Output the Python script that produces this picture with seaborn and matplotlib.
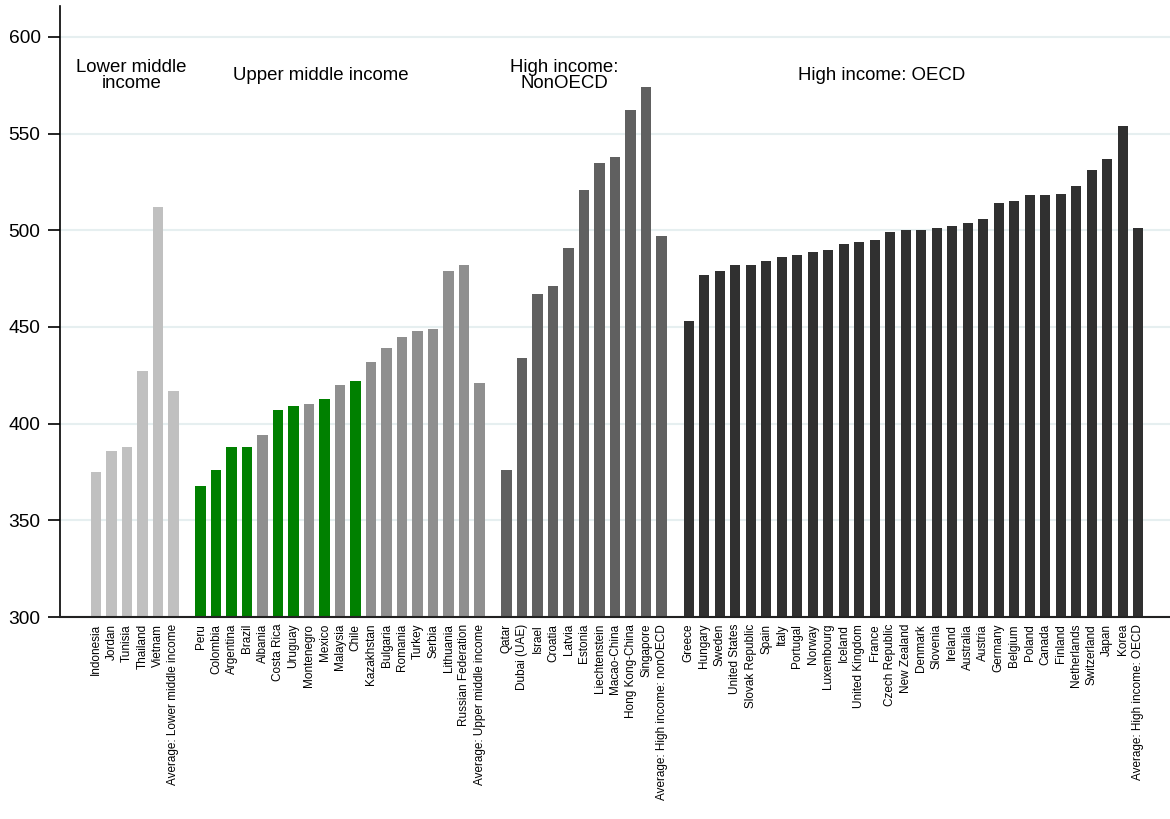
import matplotlib
matplotlib.use("Agg")
import matplotlib.pyplot as plt
import pandas as pd
import seaborn as sns

# scores per income group
lower_countries = ["Indonesia", "Jordan", "Tunisia", "Thailand", "Vietnam",
                   "Average: Lower middle income"]
lower_scores = [375, 386, 388, 427, 512, 417]

upper_countries = ["Peru", "Colombia", "Argentina", "Brazil", "Albania", "Costa Rica",
                   "Uruguay", "Montenegro", "Mexico", "Malaysia", "Chile", "Kazakhstan",
                   "Bulgaria", "Romania", "Turkey", "Serbia", "Lithuania",
                   "Russian Federation", "Average: Upper middle income"]
upper_scores = [368, 376, 388, 388, 394, 407, 409, 410, 413, 420, 422, 432,
                439, 445, 448, 449, 479, 482, 421]

nonoecd_countries = ["Qatar", "Dubai (UAE)", "Israel", "Croatia", "Latvia", "Estonia",
                     "Liechtenstein", "Macao-China", "Hong Kong-China", "Singapore",
                     "Average: High income: nonOECD"]
nonoecd_scores = [376, 434, 467, 471, 491, 521, 535, 538, 562, 574, 497]

oecd_countries = ["Greece", "Hungary", "Sweden", "United States", "Slovak Republic",
                  "Spain", "Italy", "Portugal", "Norway", "Luxembourg", "Iceland",
                  "United Kingdom", "France", "Czech Republic", "New Zealand", "Denmark",
                  "Slovenia", "Ireland", "Australia", "Austria", "Germany", "Belgium",
                  "Poland", "Canada", "Finland", "Netherlands", "Switzerland", "Japan",
                  "Korea", "Average: High income: OECD"]
oecd_scores = [453, 477, 479, 482, 482, 484, 486, 487, 489, 490, 493, 494, 495, 499,
               500, 500, 501, 502, 504, 506, 514, 515, 518, 518, 519, 523, 531, 537,
               554, 501]

# Latin American countries highlighted in green
green_countries = ["Peru", "Colombia", "Argentina", "Brazil", "Costa Rica",
                   "Uruguay", "Mexico", "Chile"]

group_titles = ["Lower middle\nincome", "Upper middle income",
                "High income:\nNonOECD", "High income: OECD"]

palette = {
    "lower": "#c0c0c0",
    "upper": "#8f8f8f",
    "green": "#008000",
    "nonoecd": "#606060",
    "oecd": "#303030",
}

groups = [
    (lower_countries, lower_scores, "lower"),
    (upper_countries, upper_scores, "upper"),
    (nonoecd_countries, nonoecd_scores, "nonoecd"),
    (oecd_countries, oecd_scores, "oecd"),
]

# one row per bar, with an extra gap between groups
rows = []
pos = 0.0
for names, scores, shade in groups:
    for name, score in zip(names, scores):
        rows.append({
            "country": name,
            "score": score,
            "pos": pos,
            "shade": "green" if name in green_countries else shade,
        })
        pos += 1
    pos += 0.75
df = pd.DataFrame(rows)

sns.set_style("white")
plt.rcParams["font.family"] = ["Liberation Sans", "DejaVu Sans"]
plt.rcParams["text.color"] = "black"
plt.rcParams["xtick.color"] = "black"
plt.rcParams["ytick.color"] = "black"
plt.rcParams["ytick.left"] = True
plt.rcParams["ytick.major.size"] = 9
plt.rcParams["ytick.major.width"] = 1.2

fig = plt.figure(figsize=(11.7, 8.19), dpi=100)
ax = fig.add_axes([60 / 1170, 202 / 819, 1110 / 1170, 611 / 819])

sns.barplot(data=df, x="pos", y="score", hue="shade", palette=palette,
            native_scale=True, dodge=False, width=0.67, linewidth=0,
            saturation=1, legend=False, ax=ax)

ax.set_ylim(300, 616)
ax.set_xlim(-2.32, 69.3)
ax.set_yticks(range(300, 601, 50))
ax.yaxis.grid(True, color="#e6eff0", linewidth=1.5)
ax.xaxis.grid(False)
ax.set_axisbelow(True)

ax.set_xticks(df["pos"])
ax.set_xticklabels(df["country"], rotation=90, fontsize=8.5)
ax.tick_params(axis="x", length=0, pad=5)
ax.tick_params(axis="y", left=True, length=9, width=1.2, pad=5, labelsize=13.8,
               color="black", labelcolor="black")
ax.set_xlabel("")
ax.set_ylabel("")

for side in ["top", "right"]:
    ax.spines[side].set_visible(False)
ax.spines["left"].set_color("black")
ax.spines["left"].set_linewidth(1.2)
ax.spines["bottom"].set_color("#222222")
ax.spines["bottom"].set_linewidth(1.5)

# group titles above the bars
for x, title in zip([2.28, 14.48, 30.2, 50.7], group_titles):
    ax.text(x, 580, title, ha="center", va="center", fontsize=13.4,
            linespacing=0.95)

fig.savefig("out.png", dpi=100)
